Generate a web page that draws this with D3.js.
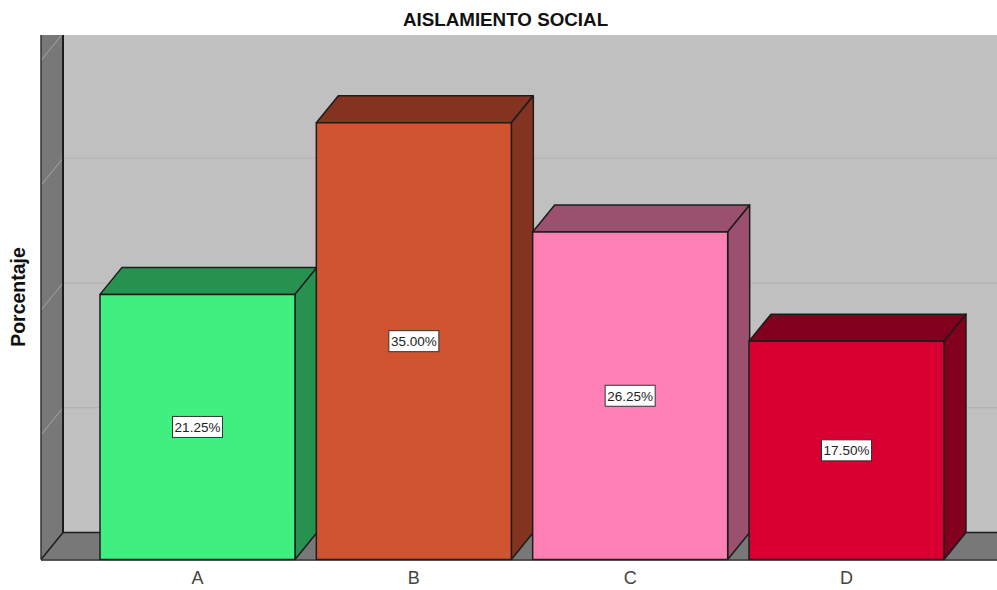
<!DOCTYPE html>
<html>
<head>
<meta charset="utf-8">
<script src="https://cdn.jsdelivr.net/npm/d3@7/dist/d3.min.js"></script>
<style>
html,body{margin:0;padding:0;background:#fff;overflow:hidden}
svg{display:block}
text{font-family:"Liberation Sans",Arial,sans-serif}
</style>
</head>
<body>
<svg id="chart" width="997" height="590"></svg>
<script>
const categories = ["A", "B", "C", "D"];
const percentages = [21.25, 35.00, 26.25, 17.50];
const gridTicks = [10, 20, 30, 40];
const frontColors = ["#41ee80", "#d05430", "#ff80b4", "#d70030"];
const shadeColors = ["#27914f", "#833320", "#9c5070", "#82001e"];
const chartTitle = "AISLAMIENTO SOCIAL";
const yTitle = "Porcentaje";

const W = 997, H = 590;
const plot = {left: 41, right: 997, top: 35, bottom: 559.5};
const depth = {x: 22, y: 27};
const edge = "#1c1c1c";

const svg = d3.select("#chart");
const x = d3.scaleBand().domain(categories).range([100, 944]).paddingInner(0.0986).paddingOuter(0);
const y = d3.scaleLinear().domain([0, 42]).range([plot.bottom, plot.top + 0.5]);
const poly = pts => pts.map(p => p.join(",")).join(" ");

svg.append("defs").append("clipPath").attr("id", "plotClip").append("rect")
  .attr("x", plot.left - 1).attr("y", plot.top).attr("width", plot.right - plot.left + 1).attr("height", plot.bottom - plot.top + 1);

const root = svg.append("g").attr("clip-path", "url(#plotClip)");
const backX = plot.left + depth.x, backY = plot.bottom - depth.y;

// back wall
root.append("rect").attr("x", backX).attr("y", plot.top - 5).attr("width", plot.right - backX).attr("height", backY - plot.top + 5).attr("fill", "#c0c0c0");
// left wall
root.append("polygon").attr("points", poly([[plot.left, plot.top - 30], [backX, plot.top - 30], [backX, backY], [plot.left, plot.bottom]])).attr("fill", "#787878");
// floor
root.append("polygon").attr("points", poly([[plot.left, plot.bottom], [backX, backY], [plot.right, backY], [plot.right, plot.bottom]])).attr("fill", "#787878");

// gridlines on back wall and across side wall
const grid = root.append("g");
gridTicks.forEach(t => {
  const yb = y(t) - depth.y;
  grid.append("line").attr("x1", backX).attr("x2", plot.right).attr("y1", yb).attr("y2", yb).attr("stroke", "#b0b0b0").attr("stroke-width", 1);
  grid.append("line").attr("x1", plot.left).attr("x2", backX).attr("y1", y(t)).attr("y2", yb).attr("stroke", "#a6a6a6").attr("stroke-width", 1);
});

// wall and floor edges
root.append("line").attr("x1", backX).attr("x2", backX).attr("y1", plot.top).attr("y2", backY).attr("stroke", edge).attr("stroke-width", 2);
root.append("line").attr("x1", backX).attr("x2", plot.right).attr("y1", backY).attr("y2", backY).attr("stroke", edge).attr("stroke-width", 1.5);
root.append("line").attr("x1", plot.left).attr("x2", backX).attr("y1", plot.bottom).attr("y2", backY).attr("stroke", edge).attr("stroke-width", 1.5);
root.append("line").attr("x1", plot.left).attr("x2", plot.left).attr("y1", plot.top).attr("y2", plot.bottom).attr("stroke", "#333").attr("stroke-width", 1.5);

// bars
const bars = root.selectAll("g.bar").data(categories).join("g").attr("class", "bar");
bars.each(function (c, i) {
  const g = d3.select(this);
  const x0 = x(c), x1 = x(c) + x.bandwidth();
  const yt = y(percentages[i]), yb = y(0);
  const style = s => s.attr("stroke", edge).attr("stroke-width", 1.5).attr("stroke-linejoin", "round");
  g.append("polygon").attr("points", poly([[x0, yt], [x0 + depth.x, yt - depth.y], [x1 + depth.x, yt - depth.y], [x1, yt]])).attr("fill", shadeColors[i]).call(style);
  g.append("polygon").attr("points", poly([[x1, yt], [x1 + depth.x, yt - depth.y], [x1 + depth.x, yb - depth.y], [x1, yb]])).attr("fill", shadeColors[i]).call(style);
  g.append("rect").attr("x", x0).attr("y", yt).attr("width", x.bandwidth()).attr("height", yb - yt).attr("fill", frontColors[i]).call(style);
});

// value labels
const labels = svg.selectAll("g.val").data(categories).join("g").attr("class", "val")
  .attr("transform", (c, i) => `translate(${x(c) + x.bandwidth() / 2},${(y(percentages[i]) + y(0)) / 2})`);
labels.append("rect").attr("x", -25).attr("y", -10.5).attr("width", 50).attr("height", 21).attr("fill", "#fff").attr("stroke", "#333").attr("stroke-width", 1);
labels.append("text").attr("text-anchor", "middle").attr("dy", "0.36em").attr("font-size", 13.5).attr("fill", "#222")
  .text((c, i) => percentages[i].toFixed(2) + "%");

// x axis
const axis = svg.append("g").attr("transform", `translate(0,${plot.bottom})`).call(d3.axisBottom(x).tickSize(0).tickPadding(12));
axis.select(".domain").attr("d", `M${plot.left},0.5H${plot.right}`).attr("stroke", "#222").attr("stroke-width", 1.5);
axis.selectAll("text").attr("font-size", 18).attr("font-family", '"Liberation Sans",Arial,sans-serif').attr("fill", "#444");

// titles
svg.append("text").attr("x", 505.5).attr("y", 26).attr("text-anchor", "middle").attr("font-size", 18.8).attr("font-weight", "bold").attr("fill", "#111").text(chartTitle);
svg.append("text").attr("transform", "translate(25,297) rotate(-90)").attr("text-anchor", "middle").attr("font-size", 19.5).attr("font-weight", "bold").attr("fill", "#111").text(yTitle);
</script>
</body>
</html>
